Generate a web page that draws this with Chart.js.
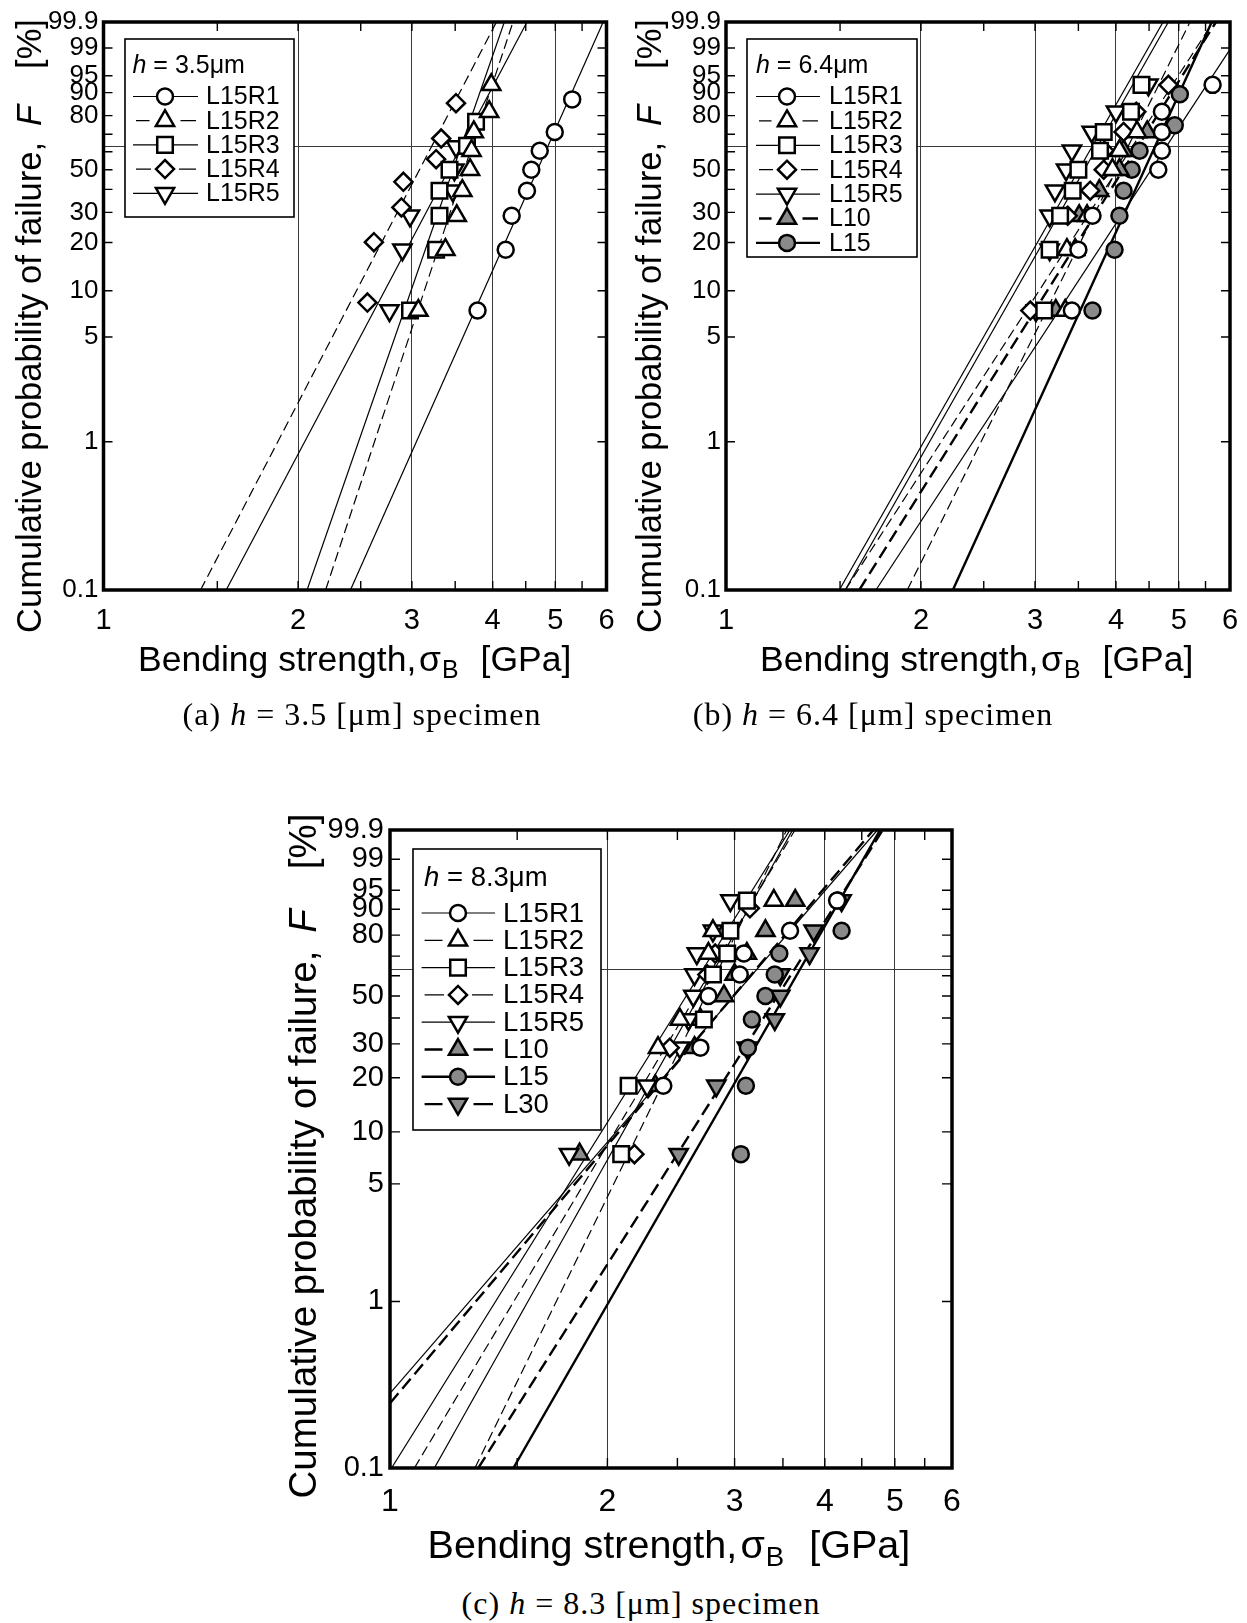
<!DOCTYPE html>
<html>
<head>
<meta charset="utf-8">
<title>Weibull plots of bending strength</title>
<script src="https://cdn.jsdelivr.net/npm/chart.js@4.4.1/dist/chart.umd.min.js"></script>
<style>
  html, body { margin: 0; padding: 0; background: #fff; }
  body { width: 1247px; height: 1623px; position: relative; overflow: hidden; }
  canvas { position: absolute; }
  .cap { position: absolute; width: 600px; text-align: center; color: #000; white-space: nowrap;
         font-family: 'Liberation Serif', 'DejaVu Serif', serif; font-size: 32px; line-height: 32px; letter-spacing: 1px; }
</style>
</head>
<body>
<canvas id="panelA" width="620" height="700" style="left:0px;top:0px;width:620px;height:700px"></canvas>
<canvas id="panelB" width="627" height="700" style="left:620px;top:0px;width:627px;height:700px"></canvas>
<canvas id="panelC" width="730" height="800" style="left:260px;top:780px;width:730px;height:800px"></canvas>
<div class="cap" style="left:62px;top:698px">(a) <i>h</i> = 3.5 [μm] specimen</div>
<div class="cap" style="left:573px;top:698px">(b) <i>h</i> = 6.4 [μm] specimen</div>
<div class="cap" style="left:341px;top:1587px">(c) <i>h</i> = 8.3 [μm] specimen</div>
<script>
// ---------- axis ticks ----------
const strengthTicks = [1, 1.5, 2, 2.5, 3, 3.5, 4, 4.5, 5, 5.5, 6];
const strengthTickLabels = ['1', '', '2', '', '3', '', '4', '', '5', '', '6'];
const strengthGridValues = [2, 3, 4, 5];
const probTicks = [0.1, 1, 5, 10, 20, 30, 40, 50, 60, 63.21, 70, 80, 90, 95, 99, 99.9];
const probTickLabels = ['0.1', '1', '5', '10', '20', '30', '', '50', '', '', '', '80', '90', '95', '99', '99.9'];
const probGridValues = [63.21];

// ---------- measured points: [bending strength GPa, cumulative probability %] ----------
// (a) h = 3.5 um
const a_L15R1 = [[3.79,7.45],[4.19,18.09],[4.28,28.72],[4.52,39.36],[4.59,50],[4.73,60.64],[4.99,71.28],[5.31,87.4]];
const a_L15R2 = [[3.07,7.45],[3.38,18.09],[3.52,28.72],[3.59,39.36],[3.69,50],[3.71,60.64],[3.74,71.28],[3.95,81.91],[3.98,92.55]];
const a_L15R3 = [[2.98,7.45],[3.27,18.09],[3.31,28.72],[3.31,39.36],[3.43,50],[3.65,63.4],[3.77,76.8]];
const a_L15R4 = [[2.56,8.4],[2.62,20.1],[2.89,32.0],[2.91,43.7],[3.27,55.8],[3.33,67.6],[3.51,85.8]];
const a_L15R5 = [[2.77,7.45],[2.90,18.09],[2.98,28.72],[3.47,39.36],[3.49,50],[3.51,63.0]];
// (b) h = 6.4 um
const b_L15R1 = [[3.42,7.45],[3.50,18.09],[3.68,28.72],[4.65,50],[4.71,60.64],[4.71,71.28],[4.71,81.91],[5.64,92.55]];
const b_L15R2 = [[3.34,7.45],[3.36,18.09],[3.61,28.72],[3.95,50],[4.05,60.64],[4.31,71.28]];
const b_L15R3 = [[3.10,7.45],[3.16,18.09],[3.28,28.72],[3.43,39.36],[3.50,50],[3.78,60.64],[3.83,71.28],[4.22,81.91],[4.38,92.55]];
const b_L15R4 = [[2.95,7.45],[3.37,28.72],[3.65,39.36],[3.83,50],[3.84,60.64],[4.11,71.28],[4.30,81.91],[4.82,92.55]];
const b_L15R5 = [[3.01,7.45],[3.16,18.09],[3.16,28.72],[3.22,39.36],[3.35,50],[3.42,60.64],[3.67,71.28],[4.00,81.91],[4.49,92.55]];
const b_L10   = [[3.23,7.45],[3.46,18.09],[3.51,28.72],[3.77,39.36],[4.05,50],[4.11,60.64],[4.47,71.28]];
const b_L15   = [[3.68,7.45],[3.98,18.09],[4.05,28.72],[4.11,39.36],[4.23,50],[4.35,60.64],[4.93,75.0],[5.02,89.4]];
// (c) h = 8.3 um
const c_L15R1 = [[2.39,18.09],[2.69,28.72],[2.76,50],[3.05,60.64],[3.09,71.28],[3.58,81.91],[4.16,92.55]];
const c_L15R2 = [[2.35,28.72],[2.52,39.36],[2.76,71.28],[2.80,81.91],[3.40,92.55]];
const c_L15R3 = [[2.09,7.45],[2.14,18.09],[2.72,39.36],[2.80,60.64],[2.93,71.28],[2.96,81.91],[3.12,92.55]];
const c_L15R4 = [[2.18,7.45],[2.44,28.72],[2.75,60.64],[2.82,71.28],[3.15,90.3]];
const c_L15R5 = [[1.77,7.45],[2.27,18.09],[2.52,28.72],[2.59,39.36],[2.63,50],[2.64,60.64],[2.66,71.28],[2.80,81.91],[2.96,92.55]];
const c_L10   = [[1.83,7.45],[2.33,18.09],[2.64,28.72],[2.69,39.36],[2.90,50],[3.00,60.64],[3.12,71.28],[3.31,81.91],[3.64,92.55]];
const c_L15   = [[3.06,7.45],[3.11,18.09],[3.13,28.72],[3.17,39.36],[3.31,50],[3.41,60.64],[3.46,71.28],[4.22,81.91],[4.17,92.55]];
const c_L30   = [[2.51,7.45],[2.83,18.09],[3.12,28.72],[3.41,39.36],[3.47,50],[3.47,60.64],[3.81,71.28],[3.86,81.91],[4.22,92.55]];

// ---------- Weibull fit lines: end points [GPa, %] ----------
const a_fit_L15R1 = [[2.41,0.1],[5.93,99.9]];
const a_fit_L15R2 = [[2.206,0.1],[4.30,99.9]];
const a_fit_L15R3 = [[2.065,0.1],[4.17,99.9]];
const a_fit_L15R4 = [[1.413,0.1],[4.054,99.9]];
const a_fit_L15R5 = [[1.548,0.1],[4.52,99.9]];

const b_fit_L15R1 = [[1.704,0.1],[6.0,98.9]];
const b_fit_L15R2 = [[1.905,0.1],[5.205,99.9]];
const b_fit_L15R3 = [[1.528,0.1],[4.82,99.9]];
const b_fit_L15R4 = [[1.528,0.1],[5.65,99.9]];
const b_fit_L15R5 = [[1.496,0.1],[4.73,99.9]];
const b_fit_L10   = [[1.606,0.1],[5.709,99.9]];
const b_fit_L15   = [[2.240,0.1],[5.623,99.9]];

const c_fit_L15R1 = [[1.0,0.281],[4.73,99.9]];
const c_fit_L15R2 = [[1.081,0.1],[3.637,99.9]];
const c_fit_L15R3 = [[1.152,0.1],[3.610,99.9]];
const c_fit_L15R4 = [[1.311,0.1],[3.542,99.9]];
const c_fit_L15R5 = [[1.005,0.1],[3.579,99.9]];
const c_fit_L10   = [[1.0,0.245],[4.670,99.9]];
const c_fit_L15   = [[1.482,0.1],[4.771,99.9]];
const c_fit_L30   = [[1.325,0.1],[4.812,99.9]];

// ---------- series appearance ----------
const GRAY = '#8a8a8a';
const seriesStyles = {
  L15R1: { pointStyle: 'circle',   radius: 8,    rotation: 0,   fill: '#ffffff', dash: [],      width: 1.2, dashed: false },
  L15R2: { pointStyle: 'triangle', radius: 10.5, rotation: 0,   fill: '#ffffff', dash: [10, 5], width: 1.2, dashed: true },
  L15R3: { pointStyle: 'rect',     radius: 11,   rotation: 0,   fill: '#ffffff', dash: [],      width: 1.2, dashed: false },
  L15R4: { pointStyle: 'rectRot',  radius: 9,    rotation: 0,   fill: '#ffffff', dash: [10, 5], width: 1.2, dashed: true },
  L15R5: { pointStyle: 'triangle', radius: 10.5, rotation: 180, fill: '#ffffff', dash: [],      width: 1.2, dashed: false },
  L10:   { pointStyle: 'triangle', radius: 10.5, rotation: 0,   fill: GRAY,      dash: [13, 6], width: 2.4, dashed: true },
  L15:   { pointStyle: 'circle',   radius: 8,    rotation: 0,   fill: GRAY,      dash: [],      width: 2.4, dashed: false },
  L30:   { pointStyle: 'triangle', radius: 10.5, rotation: 180, fill: GRAY,      dash: [13, 6], width: 2.4, dashed: true }
};
const MARKER_BORDER = 2.5;
const SANS = "'Liberation Sans', Arial, Helvetica, sans-serif";

// probability labels use a narrow face when one is installed
const NARROW = "'Liberation Sans Narrow'";
const hasNarrow = (() => {
  const c = document.createElement('canvas').getContext('2d');
  c.font = '40px monospace';
  const w0 = c.measureText('99.9 0.1 50').width;
  c.font = `40px ${NARROW}, monospace`;
  return Math.abs(c.measureText('99.9 0.1 50').width - w0) > 1;
})();
const PROB_FAMILY = hasNarrow ? `${NARROW}, ${SANS}` : SANS;
const probSize = (narrowSize, plainSize) => hasNarrow ? narrowSize : plainSize;

// ---------- panels ----------
const panels = [
  { id: 'panelA', thickness: '3.5',
    names: ['L15R1', 'L15R2', 'L15R3', 'L15R4', 'L15R5'],
    points: [a_L15R1, a_L15R2, a_L15R3, a_L15R4, a_L15R5],
    fits: [a_fit_L15R1, a_fit_L15R2, a_fit_L15R3, a_fit_L15R4, a_fit_L15R5] },
  { id: 'panelB', thickness: '6.4',
    names: ['L15R1', 'L15R2', 'L15R3', 'L15R4', 'L15R5', 'L10', 'L15'],
    points: [b_L15R1, b_L15R2, b_L15R3, b_L15R4, b_L15R5, b_L10, b_L15],
    fits: [b_fit_L15R1, b_fit_L15R2, b_fit_L15R3, b_fit_L15R4, b_fit_L15R5, b_fit_L10, b_fit_L15] },
  { id: 'panelC', thickness: '8.3',
    names: ['L15R1', 'L15R2', 'L15R3', 'L15R4', 'L15R5', 'L10', 'L15', 'L30'],
    points: [c_L15R1, c_L15R2, c_L15R3, c_L15R4, c_L15R5, c_L10, c_L15, c_L30],
    fits: [c_fit_L15R1, c_fit_L15R2, c_fit_L15R3, c_fit_L15R4, c_fit_L15R5, c_fit_L10, c_fit_L15, c_fit_L30] }
];

// page geometry of each panel (canvas-relative pixels)
const panelLayout = {
  panelA: { top: 22, right: 12, yAxisWidth: 103.5, xAxisHeight: 110,
            yTickSize: probSize(27, 26), yTickPad: 5, xTickSize: 29, xTickPad: 13.5, tickLen: 9,
            legend: { x: 125, y: 39, w: 169, h: 178, headerY: 66, textX0: 132.5, row0: 96.5, rowStep: 24.2,
                      lineX0: 133, lineX1: 198, markX: 165, labelX: 206, font: 25 },
            xTitle: { x: 138, base: 671, size: 35.5, gap: 22 },
            yTitle: { base: 41, center: 326, size: 34.5, gap1: 16, gap2: 36 } },
  panelB: { top: 22, right: 17, yAxisWidth: 106, xAxisHeight: 110,
            yTickSize: probSize(27, 26), yTickPad: 5, xTickSize: 29, xTickPad: 13.5, tickLen: 9,
            legend: { x: 127, y: 39, w: 170, h: 218, headerY: 66, textX0: 136, row0: 96.5, rowStep: 24.4,
                      lineX0: 136, lineX1: 200, markX: 167, labelX: 209, font: 25 },
            xTitle: { x: 140, base: 671, size: 35.5, gap: 22 },
            yTitle: { base: 41, center: 326, size: 34.5, gap1: 16, gap2: 36 } },
  panelC: { top: 50, right: 38, yAxisWidth: 130, xAxisHeight: 112,
            yTickSize: probSize(30, 29), yTickPad: 6, xTickSize: 32, xTickPad: 15, tickLen: 10,
            legend: { x: 153, y: 69, w: 188, h: 281, headerY: 98, textX0: 164, row0: 133, rowStep: 27.3,
                      lineX0: 161.6, lineX1: 235, markX: 198, labelX: 243, font: 27.5 },
            xTitle: { x: 167.6, base: 778, size: 39.5, gap: 25 },
            yTitle: { base: 56, center: 376, size: 38.5, gap1: 18, gap2: 40 } }
};

// ---------- Weibull probability scale ----------
const weibullTransform = p => Math.log(-Math.log(1 - p / 100));

class WeibullScale extends Chart.LinearScale {
  static id = 'weibull';
  static defaults = {};
  determineDataLimits() {
    this.min = this.options.min;
    this.max = this.options.max;
  }
  buildTicks() {
    return probTicks.map(v => ({ value: v }));
  }
  configure() {
    super.configure();
    this._wMin = weibullTransform(this.min);
    this._wMax = weibullTransform(this.max);
  }
  getPixelForValue(value) {
    if (value === null || value === undefined || isNaN(value)) return NaN;
    const t = (weibullTransform(value) - this._wMin) / (this._wMax - this._wMin);
    return this.getPixelForDecimal(t);
  }
  getValueForPixel(pixel) {
    const w = this._wMin + this.getDecimalForPixel(pixel) * (this._wMax - this._wMin);
    return 100 * (1 - Math.exp(-Math.exp(w)));
  }
}
Chart.register(WeibullScale);

// ---------- frame, inward ticks, legend and axis titles ----------
const panelDecor = {
  id: 'panelDecor',
  afterDatasetsDraw(chart) {
    const L = panelLayout[chart.canvas.id];
    const panel = panels.find(p => p.id === chart.canvas.id);
    const { ctx, chartArea: a } = chart;
    const xs = chart.scales.x, ys = chart.scales.y;
    ctx.save();

    // inward tick marks on all four sides
    ctx.strokeStyle = '#000';
    ctx.lineWidth = 1.4;
    ctx.setLineDash([]);
    ctx.beginPath();
    strengthTicks.forEach(v => {
      if (v <= 1 || v >= 6) return;
      const px = xs.getPixelForValue(v);
      ctx.moveTo(px, a.bottom); ctx.lineTo(px, a.bottom - L.tickLen);
      ctx.moveTo(px, a.top); ctx.lineTo(px, a.top + L.tickLen);
    });
    probTicks.forEach(v => {
      if (v <= 0.1 || v >= 99.9 || probGridValues.includes(v)) return;
      const py = ys.getPixelForValue(v);
      ctx.moveTo(a.left, py); ctx.lineTo(a.left + L.tickLen, py);
      ctx.moveTo(a.right, py); ctx.lineTo(a.right - L.tickLen, py);
    });
    ctx.stroke();

    // legend box
    const lg = L.legend;
    ctx.fillStyle = '#fff';
    ctx.fillRect(lg.x, lg.y, lg.w, lg.h);
    ctx.lineWidth = 1.6;
    ctx.strokeStyle = '#000';
    ctx.strokeRect(lg.x, lg.y, lg.w, lg.h);
    ctx.fillStyle = '#000';
    ctx.textAlign = 'left';
    ctx.textBaseline = 'middle';
    ctx.font = `italic ${lg.font}px ${SANS}`;
    ctx.fillText('h', lg.textX0, lg.headerY);
    const hw = ctx.measureText('h').width;
    ctx.font = `${lg.font}px ${SANS}`;
    ctx.fillText(' = ' + panel.thickness + 'μm', lg.textX0 + hw, lg.headerY);

    panel.names.forEach((name, i) => {
      const st = seriesStyles[name];
      const y = lg.row0 + i * lg.rowStep;
      ctx.strokeStyle = '#000';
      ctx.lineWidth = st.width;
      ctx.setLineDash([]);
      ctx.beginPath();
      if (st.dashed) {
        const gap = st.radius + 5;
        ctx.moveTo(lg.lineX0 + 3, y); ctx.lineTo(lg.markX - gap, y);
        ctx.moveTo(lg.markX + gap, y); ctx.lineTo(lg.lineX1 - 2, y);
      } else {
        ctx.moveTo(lg.lineX0, y); ctx.lineTo(lg.lineX1, y);
      }
      ctx.stroke();
      ctx.fillStyle = st.fill;
      ctx.lineWidth = MARKER_BORDER;
      Chart.helpers.drawPoint(ctx, { pointStyle: st.pointStyle, rotation: st.rotation, radius: st.radius, borderWidth: MARKER_BORDER }, lg.markX, y);
      ctx.fillStyle = '#000';
      ctx.font = `${lg.font}px ${SANS}`;
      ctx.fillText(name, lg.labelX, y + 1);
    });

    // plot frame
    ctx.setLineDash([]);
    ctx.strokeStyle = '#000';
    ctx.lineWidth = 3.5;
    ctx.strokeRect(a.left, a.top, a.right - a.left, a.bottom - a.top);

    // x axis title: Bending strength, σB [GPa]
    const xt = L.xTitle;
    ctx.fillStyle = '#000';
    ctx.textBaseline = 'alphabetic';
    ctx.textAlign = 'left';
    let x = xt.x;
    ctx.font = `${xt.size}px ${SANS}`;
    ctx.fillText('Bending strength,', x, xt.base);
    x += ctx.measureText('Bending strength,').width + xt.size * 0.08;
    ctx.fillText('σ', x, xt.base);
    x += ctx.measureText('σ').width + 1;
    ctx.font = `${xt.size * 0.7}px ${SANS}`;
    ctx.fillText('B', x, xt.base + xt.size * 0.2);
    x += ctx.measureText('B').width + xt.gap;
    ctx.font = `${xt.size}px ${SANS}`;
    ctx.fillText('[GPa]', x, xt.base);

    // y axis title (rotated): Cumulative probability of failure,  F  [%]
    const yt = L.yTitle;
    ctx.save();
    ctx.translate(yt.base, 0);
    ctx.rotate(-Math.PI / 2);
    const part1 = 'Cumulative probability of failure,';
    ctx.font = `${yt.size}px ${SANS}`;
    const w1 = ctx.measureText(part1).width;
    const w3 = ctx.measureText('[%]').width;
    ctx.font = `italic ${yt.size}px ${SANS}`;
    const w2 = ctx.measureText('F').width;
    const total = w1 + yt.gap1 + w2 + yt.gap2 + w3;
    let s = -(yt.center + total / 2);
    ctx.font = `${yt.size}px ${SANS}`;
    ctx.fillText(part1, s, 0);
    s += w1 + yt.gap1;
    ctx.font = `italic ${yt.size}px ${SANS}`;
    ctx.fillText('F', s, 0);
    s += w2 + yt.gap2;
    ctx.font = `${yt.size}px ${SANS}`;
    ctx.fillText('[%]', s, 0);
    ctx.restore();

    ctx.restore();
  }
};

// ---------- build charts ----------
function buildDatasets(panel) {
  const ds = [];
  panel.names.forEach((name, i) => {
    const st = seriesStyles[name];
    ds.push({
      label: name + ' fit',
      data: panel.fits[i].map(([s, f]) => ({ x: s, y: f })),
      showLine: true, pointRadius: 0, pointHoverRadius: 0,
      borderColor: '#000', borderWidth: st.width, borderDash: st.dash,
      fill: false, tension: 0, order: 2
    });
  });
  panel.names.forEach((name, i) => {
    const st = seriesStyles[name];
    ds.push({
      label: name,
      data: panel.points[i].map(([s, f]) => ({ x: s, y: f })),
      showLine: false,
      pointStyle: st.pointStyle, pointRadius: st.radius, pointRotation: st.rotation,
      pointBackgroundColor: st.fill, pointBorderColor: '#000', pointBorderWidth: MARKER_BORDER,
      order: 1
    });
  });
  return ds;
}

panels.forEach(panel => {
  const L = panelLayout[panel.id];
  new Chart(document.getElementById(panel.id), {
    type: 'scatter',
    data: { datasets: buildDatasets(panel) },
    options: {
      responsive: false,
      animation: false,
      devicePixelRatio: 1,
      events: [],
      layout: { padding: { left: 0, top: L.top, right: L.right, bottom: 0 } },
      plugins: { legend: { display: false }, tooltip: { enabled: false } },
      scales: {
        x: {
          type: 'logarithmic', position: 'bottom', min: 1, max: 6,
          afterBuildTicks: scale => { scale.ticks = strengthTicks.map(v => ({ value: v })); },
          // fixed axis band; end labels may overhang into the page margins
          afterFit: scale => { scale.height = L.xAxisHeight; scale.paddingLeft = 0; scale.paddingRight = 0; },
          ticks: {
            autoSkip: false, maxRotation: 0, minRotation: 0, padding: L.xTickPad, color: '#000',
            font: { family: SANS, size: L.xTickSize },
            callback: (v, i) => strengthTickLabels[i]
          },
          grid: {
            drawTicks: false, lineWidth: 1,
            color: c => (c.tick && strengthGridValues.includes(c.tick.value)) ? '#3a3a3a' : 'rgba(0,0,0,0)'
          },
          border: { display: false },
          title: { display: false }
        },
        y: {
          type: 'weibull', position: 'left', min: 0.1, max: 99.9,
          afterFit: scale => { scale.width = L.yAxisWidth; scale.paddingTop = 0; scale.paddingBottom = 0; },
          ticks: {
            autoSkip: false, padding: L.yTickPad, color: '#000',
            font: { family: PROB_FAMILY, size: L.yTickSize },
            callback: (v, i) => probTickLabels[i]
          },
          grid: {
            drawTicks: false, lineWidth: 1,
            color: c => (c.tick && probGridValues.includes(c.tick.value)) ? '#3a3a3a' : 'rgba(0,0,0,0)'
          },
          border: { display: false },
          title: { display: false }
        }
      }
    },
    plugins: [panelDecor]
  });
});
</script>
</body>
</html>
